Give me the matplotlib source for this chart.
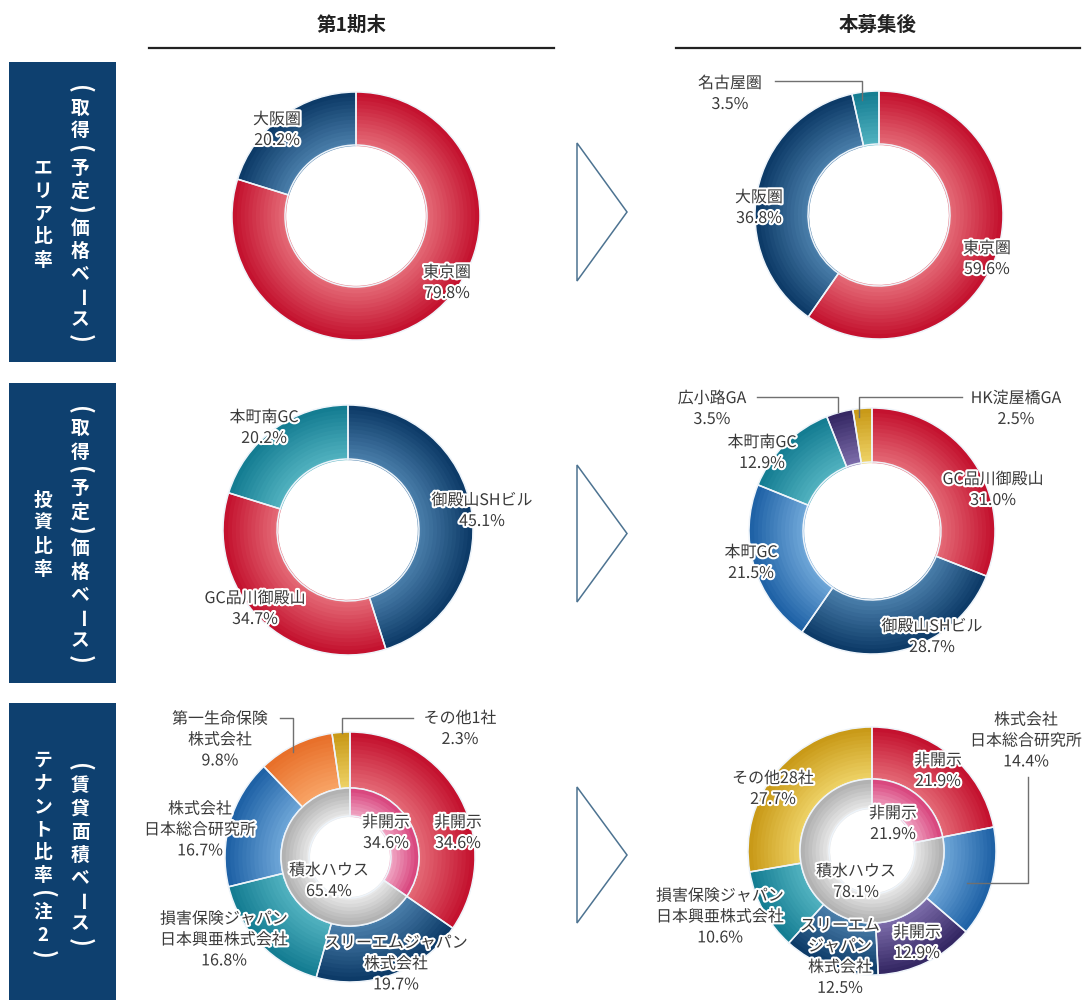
import matplotlib
matplotlib.use('Agg')
import matplotlib.pyplot as plt
from matplotlib.patches import Rectangle, Polygon
from matplotlib.colors import to_rgb
import matplotlib.patheffects as pe
import numpy as np

plt.rcParams['font.family'] = ['Noto Sans CJK JP', 'DejaVu Sans']

W, H = 1086, 1000

# エリア比率
area_before_names = ['東京圏', '大阪圏']
area_before_values = [79.8, 20.2]
area_after_names = ['東京圏', '大阪圏', '名古屋圏']
area_after_values = [59.6, 36.8, 3.5]

# 投資比率
inv_before_names = ['御殿山SHビル', 'GC品川御殿山', '本町南GC']
inv_before_values = [45.1, 34.7, 20.2]
inv_after_names = ['GC品川御殿山', '御殿山SHビル', '本町GC', '本町南GC', '広小路GA', 'HK淀屋橋GA']
inv_after_values = [31.0, 28.7, 21.5, 12.9, 3.5, 2.5]

# テナント比率
ten_before_names = ['非開示', 'スリーエムジャパン\n株式会社', '損害保険ジャパン\n日本興亜株式会社',
                    '株式会社\n日本総合研究所', '第一生命保険\n株式会社', 'その他1社']
ten_before_values = [34.6, 19.7, 16.8, 16.7, 9.8, 2.3]
ten_before_inner_names = ['非開示', '積水ハウス']
ten_before_inner_values = [34.6, 65.4]
ten_after_names = ['非開示', '株式会社\n日本総合研究所', '非開示', 'スリーエム\nジャパン\n株式会社',
                   '損害保険ジャパン\n日本興亜株式会社', 'その他28社']
ten_after_values = [21.9, 14.4, 12.9, 12.5, 10.6, 27.7]
ten_after_inner_names = ['非開示', '積水ハウス']
ten_after_inner_values = [21.9, 78.1]

# (内側の明るい色, 外側の暗い色)
RED = ('#e46a76', '#c4122f')
NAVY = ('#4a7eaa', '#0d3b68')
TEAL = ('#52b2c0', '#147d92')
BLUE = ('#6ea6d8', '#1f62a6')
ORANGE = ('#f8a466', '#e8702a')
YELLOW = ('#eed266', '#c99a18')
PURPLE = ('#7c6caa', '#352864')
PINK = ('#f0a6c4', '#d9487f')
GREY = ('#e8e8e8', '#b2b2b2')


def Y(y):
    return H - y


def mix(c1, c2, t):
    a, b = np.array(to_rgb(c1)), np.array(to_rgb(c2))
    return tuple(a + (b - a) * t)


def donut(ax, values, cols, cx, cy, r_out, r_in, n=14):
    band = (r_out - r_in) / n
    for k in range(n):
        t = k / (n - 1)
        ax.pie(values, radius=r_in + (k + 1) * band, center=(cx, Y(cy)),
               startangle=90, counterclock=False,
               colors=[mix(c[0], c[1], t) for c in cols],
               wedgeprops=dict(width=band * 1.3, linewidth=0))
    ax.pie(values, radius=r_out, center=(cx, Y(cy)), startangle=90, counterclock=False,
           colors=['none'] * len(values),
           wedgeprops=dict(width=r_out - r_in, edgecolor='#eef4fa', linewidth=1.1))


halo = [pe.withStroke(linewidth=3, foreground='white')]


def labels(ax, names, values, positions, size=11.5):
    for name, v, (x, y) in zip(names, values, positions):
        ax.text(x, Y(y), f'{name}\n{v:.1f}%', ha='center', va='center', fontsize=size,
                color='#3a3a3a', linespacing=1.3, path_effects=halo, zorder=5)


def leader(ax, pts):
    ax.plot([p[0] for p in pts], [Y(p[1]) for p in pts], color='#707070', lw=1, zorder=4)


def vtext(ax, x, yc, text, size=13.5):
    # 縦書き: 括弧と長音は回転させる
    adv = [14 if ch in '()' else 23 for ch in text]
    y = yc - sum(adv) / 2
    for ch, a in zip(text, adv):
        rot = -90 if ch in '()ー' else 0
        fs = size * 1.25 if ch in '()' else size
        ax.text(x, Y(y + a / 2), ch, ha='center', va='center', rotation=rot,
                rotation_mode='anchor', fontsize=fs, fontweight='bold',
                color='white', zorder=3)
        y += a


fig = plt.figure(figsize=(W / 100, H / 100), dpi=100)
ax = fig.add_axes([0, 0, 1, 1])

# 行ラベル
rows = [(62, 362, '(取得(予定)価格ベース)', 'エリア比率'),
        (383, 683, '(取得(予定)価格ベース)', '投資比率'),
        (703, 1003, '(賃貸面積ベース)', 'テナント比率(注2)')]
for top, bot, right, left in rows:
    ax.add_patch(Rectangle((9, Y(bot)), 107, bot - top, facecolor='#0e406f', edgecolor='none'))
    vtext(ax, 80, top + 152, right)
    vtext(ax, 43, top + 152, left)

# 列見出し
for x0, x1, title in [(149, 554, '第1期末'), (676, 1080, '本募集後')]:
    ax.text((x0 + x1) / 2, Y(25), title, ha='center', va='center', fontsize=14,
            fontweight='bold', color='#222222')
    ax.plot([x0, x1], [Y(48), Y(48)], color='#222222', lw=1.6)

# 矢印
for yt, yb in [(143, 281), (465, 602), (787, 923)]:
    ax.add_patch(Polygon([(577, Y(yt)), (627, Y((yt + yb) / 2)), (577, Y(yb))],
                         closed=True, facecolor='white', edgecolor='#4d7391', lw=1.1))

# エリア比率
donut(ax, area_before_values, [RED, NAVY], 356, 216, 124, 71)
labels(ax, area_before_names, area_before_values, [(447, 283), (277, 130)])
donut(ax, area_after_values, [RED, NAVY, TEAL], 879, 215, 124, 71)
labels(ax, area_after_names, area_after_values, [(987, 259), (759, 208), (730, 94)])
leader(ax, [(775, 81), (862, 81), (862, 100)])

# 投資比率
donut(ax, inv_before_values, [NAVY, RED, TEAL], 348, 530, 125, 71)
labels(ax, inv_before_names, inv_before_values, [(482, 511), (255, 609), (264, 428)])
donut(ax, inv_after_values, [RED, NAVY, BLUE, TEAL, PURPLE, YELLOW], 872, 531, 123, 69)
labels(ax, inv_after_names, inv_after_values,
       [(993, 490), (932, 637), (751, 563), (762, 453), (712, 409), (1016, 409)])
leader(ax, [(757, 397), (838, 397), (838, 412)])
leader(ax, [(962, 397), (859, 397), (859, 417)])

# テナント比率
donut(ax, ten_before_values, [RED, NAVY, TEAL, BLUE, ORANGE, YELLOW], 350, 857, 125, 69)
donut(ax, ten_before_inner_values, [PINK, GREY], 350, 857, 69, 41, n=8)
labels(ax, ten_before_names, ten_before_values,
       [(458, 833), (396, 964), (224, 940), (200, 830), (220, 740), (460, 729)])
labels(ax, ten_before_inner_names, ten_before_inner_values, [(386, 833), (329, 881)])
leader(ax, [(280, 718), (293, 718), (293, 752)])
leader(ax, [(413, 718), (342, 718), (342, 733)])

donut(ax, ten_after_values, [RED, BLUE, PURPLE, NAVY, TEAL, YELLOW], 872, 851, 124, 72)
donut(ax, ten_after_inner_values, [PINK, GREY], 872, 851, 72, 43, n=8)
labels(ax, ten_after_names, ten_after_values,
       [(938, 771), (1026, 741), (917, 943), (840, 957), (720, 917), (773, 789)])
labels(ax, ten_after_inner_names, ten_after_inner_values, [(893, 824), (856, 882)])
leader(ax, [(1028, 777), (1028, 883), (967, 883)])

ax.set_xlim(0, W)
ax.set_ylim(0, H)
ax.set_aspect('equal')
ax.axis('off')

fig.savefig('out.png', dpi=100, facecolor='white')
